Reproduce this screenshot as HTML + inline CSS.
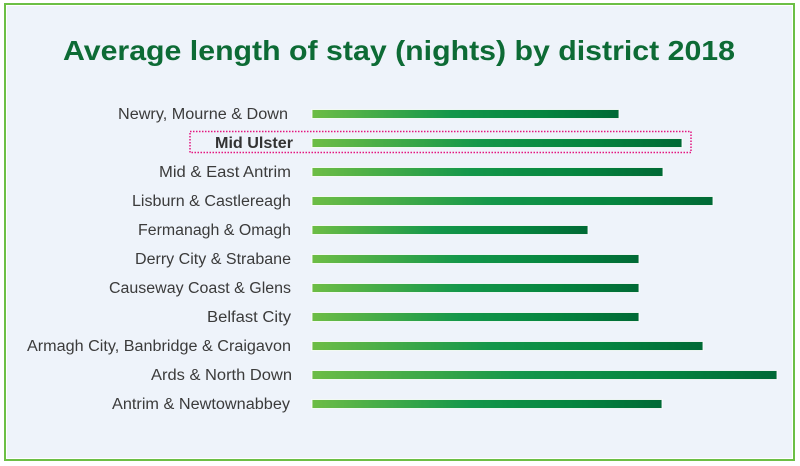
<!DOCTYPE html>
<html><head><meta charset="utf-8"><style>
html,body{margin:0;padding:0;background:#fff;}
svg{display:block;}
</style></head><body>
<svg width="800" height="466" viewBox="0 0 800 466" xmlns="http://www.w3.org/2000/svg">
<defs>
<linearGradient id="g" x1="0" y1="0" x2="1" y2="0">
<stop offset="0" stop-color="#6dbd45"/>
<stop offset="0.45" stop-color="#14974a"/>
<stop offset="0.75" stop-color="#05853f"/>
<stop offset="1" stop-color="#006935"/>
</linearGradient>
</defs>
<rect x="0" y="0" width="800" height="466" fill="#fff"/>
<rect x="5" y="4" width="789" height="456" fill="#eef3fa" stroke="#6cbf45" stroke-width="2"/>
<rect x="6.5" y="5.5" width="786" height="453" fill="none" stroke="#ffffff" stroke-width="1"/>
<text x="63" y="60" font-family="Liberation Sans, sans-serif" font-weight="bold" font-size="28" fill="#0d6b35" textLength="672" lengthAdjust="spacingAndGlyphs">Average length of stay (nights) by district 2018</text>
<g font-family="Liberation Sans, sans-serif" font-size="15.5" fill="#3b3b3b">
<text x="118" y="119" textLength="170" lengthAdjust="spacingAndGlyphs">Newry, Mourne &amp; Down</text>
<text x="215" y="148" textLength="78" lengthAdjust="spacingAndGlyphs" font-weight="bold" fill="#333">Mid Ulster</text>
<text x="159" y="177" textLength="132" lengthAdjust="spacingAndGlyphs">Mid &amp; East Antrim</text>
<text x="132" y="206" textLength="159" lengthAdjust="spacingAndGlyphs">Lisburn &amp; Castlereagh</text>
<text x="138" y="235" textLength="153" lengthAdjust="spacingAndGlyphs">Fermanagh &amp; Omagh</text>
<text x="135" y="264" textLength="156" lengthAdjust="spacingAndGlyphs">Derry City &amp; Strabane</text>
<text x="109" y="293" textLength="182" lengthAdjust="spacingAndGlyphs">Causeway Coast &amp; Glens</text>
<text x="207" y="322" textLength="84" lengthAdjust="spacingAndGlyphs">Belfast City</text>
<text x="27" y="351" textLength="264" lengthAdjust="spacingAndGlyphs">Armagh City, Banbridge &amp; Craigavon</text>
<text x="151" y="380" textLength="141" lengthAdjust="spacingAndGlyphs">Ards &amp; North Down</text>
<text x="112" y="409" textLength="178" lengthAdjust="spacingAndGlyphs">Antrim &amp; Newtownabbey</text>
</g>
<g fill="url(#g)" stroke="#ffffff" stroke-width="1" stroke-opacity="0.85">
<rect x="312" y="109.5" width="307" height="9"/>
<rect x="312" y="138.5" width="370" height="9"/>
<rect x="312" y="167.5" width="351" height="9"/>
<rect x="312" y="196.5" width="401" height="9"/>
<rect x="312" y="225.5" width="276" height="9"/>
<rect x="312" y="254.5" width="327" height="9"/>
<rect x="312" y="283.5" width="327" height="9"/>
<rect x="312" y="312.5" width="327" height="9"/>
<rect x="312" y="341.5" width="391" height="9"/>
<rect x="312" y="370.5" width="465" height="9"/>
<rect x="312" y="399.5" width="350" height="9"/>
</g>
<rect x="190" y="131.5" width="501" height="21" fill="none" stroke="#e4157f" stroke-width="1.5" stroke-dasharray="1.5,1.5"/>
</svg>
</body></html>
